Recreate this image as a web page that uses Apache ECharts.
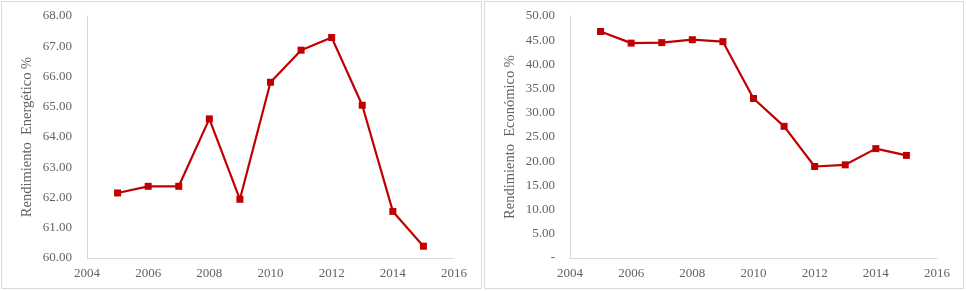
<!DOCTYPE html>
<html><head><meta charset="utf-8">
<script src="https://cdn.jsdelivr.net/npm/echarts@6/dist/echarts.min.js"></script>
<style>html,body{margin:0;padding:0;background:#fff}#c{width:966px;height:291px}</style>
</head><body><div id="c"></div>
<script>
const years = [2005,2006,2007,2008,2009,2010,2011,2012,2013,2014,2015];
const energetico = [62.15,62.37,62.37,64.60,61.94,65.81,66.87,67.29,65.05,61.54,60.39];
const economico = [46.8,44.4,44.5,45.1,44.7,32.95,27.2,18.9,19.25,22.6,21.2];
const leftTitle = 'Rendimiento  Energético %';
const rightTitle = 'Rendimiento  Económico %';

const chart = echarts.init(document.getElementById('c'), null, {renderer:'canvas'});
const font = 'Liberation Serif';
const txt = '#636363';
const axisLineC = '#d9d9d9';
const red = '#c00000';
function xAxis(i){return {type:'value',gridIndex:i,min:2004,max:2016,interval:2,
  axisLine:{lineStyle:{color:axisLineC,width:1}},axisTick:{show:false},splitLine:{show:false},
  axisLabel:{color:txt,fontFamily:font,fontSize:13,margin:9,formatter:v=>String(v)}};}
function yAxis(i,min,max,interval,name,fmt){return {type:'value',gridIndex:i,min:min,max:max,interval:interval,
  name:name,nameLocation:'middle',nameGap:52,nameTextStyle:{color:txt,fontFamily:font,fontSize:14.5},
  axisLine:{show:true,lineStyle:{color:axisLineC,width:1}},axisTick:{show:false},splitLine:{show:false},
  axisLabel:{color:txt,fontFamily:font,fontSize:13,margin:15,formatter:fmt}};}
chart.setOption({
  animation:false,
  graphic:[
    {type:'rect',shape:{x:1.5,y:1.5,width:480,height:287},style:{fill:null,stroke:'#d9d9d9',lineWidth:1}},
    {type:'rect',shape:{x:484.5,y:1.5,width:479,height:287},style:{fill:null,stroke:'#d9d9d9',lineWidth:1}}
  ],
  grid:[{left:87,top:16,width:367,height:242},{left:570,top:16,width:367,height:242}],
  xAxis:[xAxis(0),xAxis(1)],
  yAxis:[
    yAxis(0,60,68,1,leftTitle,v=>v.toFixed(2)),
    yAxis(1,0,50,5,rightTitle,v=>v===0?'-':v.toFixed(2))
  ],
  series:[
    {type:'line',xAxisIndex:0,yAxisIndex:0,data:years.map((y,i)=>[y,energetico[i]]),
     symbol:'rect',symbolSize:7,showAllSymbol:true,lineStyle:{color:red,width:2.2},itemStyle:{color:red}},
    {type:'line',xAxisIndex:1,yAxisIndex:1,data:years.map((y,i)=>[y,economico[i]]),
     symbol:'rect',symbolSize:7,showAllSymbol:true,lineStyle:{color:red,width:2.2},itemStyle:{color:red}}
  ]
});
</script></body></html>
